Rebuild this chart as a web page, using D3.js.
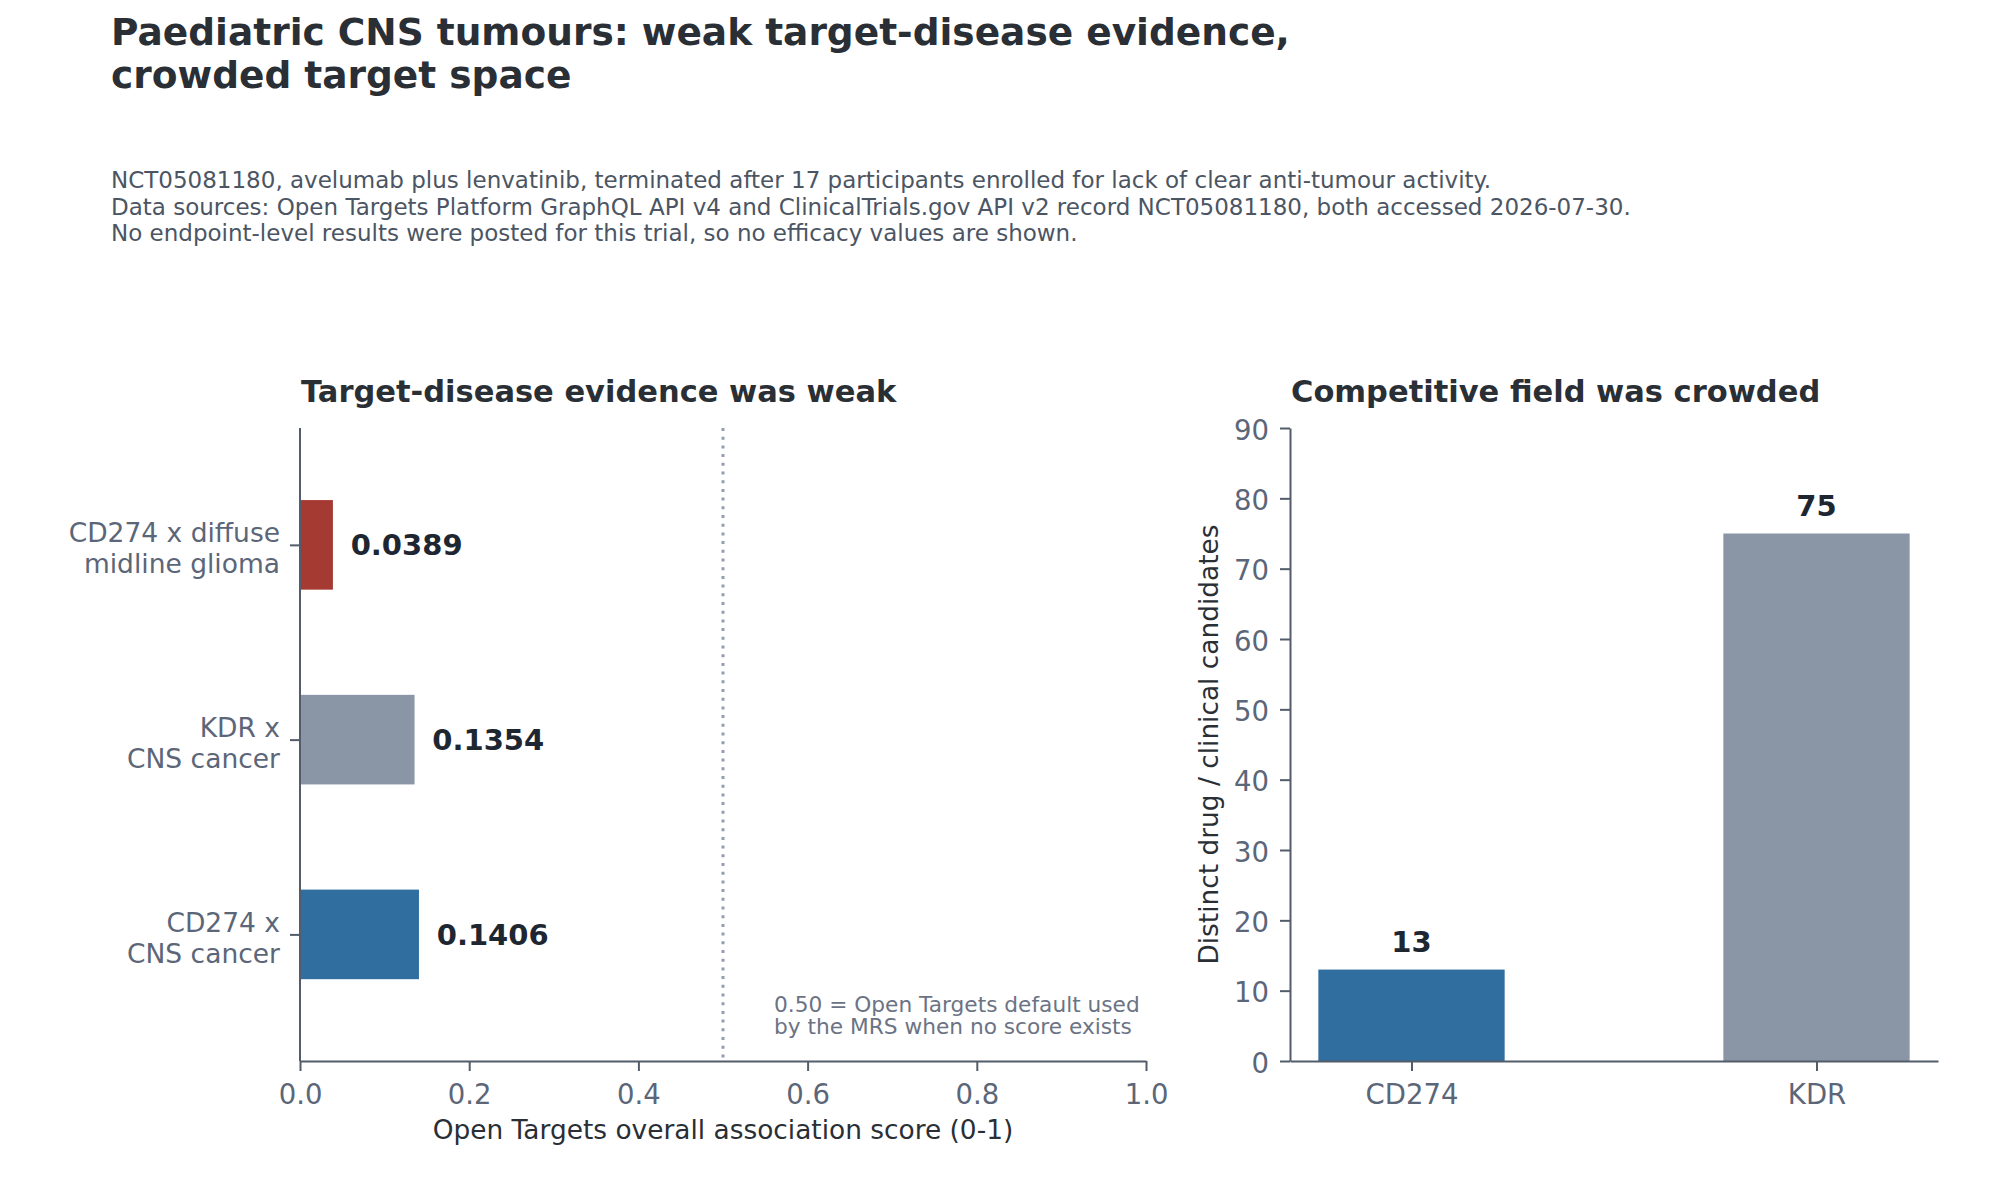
<!DOCTYPE html>
<html>
<head>
<meta charset="utf-8">
<script src="https://cdn.jsdelivr.net/npm/d3@7"></script>
<style>
  html, body { margin: 0; padding: 0; background: #fff; }
  svg text { font-family: "DejaVu Sans", sans-serif; }
</style>
</head>
<body>
<svg width="2000" height="1200"></svg>
<script>
// association scores, bottom row first
var pairLabels = [["CD274 x", "CNS cancer"], ["KDR x", "CNS cancer"], ["CD274 x diffuse", "midline glioma"]];
var pairScores = [0.1406, 0.1354, 0.0389];
var scoreTicks = [0, 0.2, 0.4, 0.6, 0.8, 1.0];
var defaultScore = 0.5;

// competitor counts
var targets = ["CD274", "KDR"];
var candidateCounts = [13, 75];
var countTicks = [0, 10, 20, 30, 40, 50, 60, 70, 80, 90];

var titleLines = ["Paediatric CNS tumours: weak target-disease evidence,", "crowded target space"];
var subtitleLines = [
  "NCT05081180, avelumab plus lenvatinib, terminated after 17 participants enrolled for lack of clear anti-tumour activity.",
  "Data sources: Open Targets Platform GraphQL API v4 and ClinicalTrials.gov API v2 record NCT05081180, both accessed 2026-07-30.",
  "No endpoint-level results were posted for this trial, so no efficacy values are shown."
];
var noteLines = ["0.50 = Open Targets default used", "by the MRS when no score exists"];

var blue = "#2f6e9e", grey = "#8a96a6", red = "#a53a33";
var pairColours = [blue, grey, red];
var targetColours = [blue, grey];
var axisColour = "#525c6b", tickText = "#5b6678", dark = "#2a2f36", valueText = "#1e2731";

var svg = d3.select("svg");

// headline
svg.append("text")
   .attr("x", 111).attr("y", 45)
   .attr("font-size", "37.5px").attr("font-weight", "bold").attr("fill", dark)
   .selectAll("tspan").data(titleLines).enter().append("tspan")
   .attr("x", 111).attr("dy", function (d, i) { return i ? 43 : 0; })
   .text(function (d) { return d; });

svg.append("text")
   .attr("x", 111).attr("y", 188)
   .attr("font-size", "23px").attr("fill", "#4b5563")
   .selectAll("tspan").data(subtitleLines).enter().append("tspan")
   .attr("x", 111).attr("dy", function (d, i) { return i ? 26.7 : 0; })
   .text(function (d) { return d; });

function styleAxis(g) {
  g.select(".domain").attr("stroke", axisColour).attr("stroke-width", 2);
  g.selectAll(".tick line").attr("stroke", axisColour).attr("stroke-width", 2);
  g.selectAll(".tick text").attr("fill", tickText).attr("font-size", "27.5px")
   .attr("font-family", '"DejaVu Sans", sans-serif');
}

// ---- left panel: association scores
var plotTop = 428, plotBottom = 1061;
var x = d3.scaleLinear().domain([0, 1]).range([300, 1146]);
var y = d3.scaleLinear().domain([-0.65, 2.6]).range([plotBottom, plotTop]);
var barH = y(0) - y(0.46);

var left = svg.append("g");

left.append("line")
    .attr("x1", x(defaultScore)).attr("x2", x(defaultScore))
    .attr("y1", plotTop).attr("y2", plotBottom)
    .attr("stroke", "#939db0").attr("stroke-width", 3)
    .attr("stroke-dasharray", "3,5.7");

left.selectAll("rect").data(pairScores).enter().append("rect")
    .attr("x", x(0))
    .attr("y", function (d, i) { return y(i) - barH / 2; })
    .attr("width", function (d) { return x(d) - x(0); })
    .attr("height", barH)
    .attr("fill", function (d, i) { return pairColours[i]; });

left.selectAll("text.val").data(pairScores).enter().append("text")
    .attr("class", "val")
    .attr("x", function (d) { return x(d + 0.021); })
    .attr("y", function (d, i) { return y(i) + 10.5; })
    .attr("font-size", "29px").attr("font-weight", "bold").attr("fill", valueText)
    .text(function (d) { return d.toFixed(4); });

left.append("g")
    .attr("transform", "translate(0," + plotBottom + ")")
    .call(d3.axisBottom(x).tickValues(scoreTicks).tickFormat(d3.format(".1f"))
      .tickSize(10).tickPadding(13).tickSizeOuter(0))
    .call(styleAxis);

var yAxis = left.append("g")
    .attr("transform", "translate(" + x(0) + ",0)")
    .call(d3.axisLeft(y).tickValues(d3.range(pairLabels.length)).tickFormat("")
      .tickSize(10).tickSizeOuter(0))
    .call(styleAxis);
yAxis.select(".domain").attr("d", "M0," + plotTop + "V" + plotBottom);
yAxis.selectAll(".tick text")
    .attr("x", -20).attr("dy", null).attr("text-anchor", "end")
    .attr("font-size", "26.5px")
    .each(function (d) {
      d3.select(this).selectAll("tspan").data(pairLabels[d]).enter().append("tspan")
        .attr("x", -20).attr("dy", function (t, j) { return j ? 31 : -3; })
        .text(function (t) { return t; });
    });

left.append("text")
    .attr("x", (x(0) + x(1)) / 2).attr("y", 1139)
    .attr("text-anchor", "middle").attr("font-size", "26.4px").attr("fill", dark)
    .text("Open Targets overall association score (0-1)");

left.append("text")
    .attr("x", 774).attr("y", 1012)
    .attr("font-size", "21.7px").attr("fill", "#6b7384")
    .selectAll("tspan").data(noteLines).enter().append("tspan")
    .attr("x", 774).attr("dy", function (d, i) { return i ? 22.3 : 0; })
    .text(function (d) { return d; });

left.append("text")
    .attr("x", 301).attr("y", 402)
    .attr("font-size", "30.5px").attr("font-weight", "bold").attr("fill", dark)
    .text("Target-disease evidence was weak");

// ---- right panel: crowded field
var cx = d3.scaleLinear().domain([-0.3, 1.3]).range([1290, 1938]);
var cy = d3.scaleLinear().domain([0, 90]).range([plotBottom, plotTop]);
var barW = cx(0.46) - cx(0);

var right = svg.append("g");

right.selectAll("rect").data(candidateCounts).enter().append("rect")
    .attr("x", function (d, i) { return cx(i) - barW / 2; })
    .attr("y", function (d) { return cy(d); })
    .attr("width", barW)
    .attr("height", function (d) { return cy(0) - cy(d); })
    .attr("fill", function (d, i) { return targetColours[i]; });

right.selectAll("text.val").data(candidateCounts).enter().append("text")
    .attr("class", "val")
    .attr("x", function (d, i) { return cx(i); })
    .attr("y", function (d) { return cy(d + 2.55); })
    .attr("text-anchor", "middle")
    .attr("font-size", "29px").attr("font-weight", "bold").attr("fill", valueText)
    .text(function (d) { return d; });

right.append("g")
    .attr("transform", "translate(0," + plotBottom + ")")
    .call(d3.axisBottom(cx).tickValues(d3.range(targets.length))
      .tickFormat(function (i) { return targets[i]; })
      .tickSize(10).tickPadding(13).tickSizeOuter(0))
    .call(styleAxis);

var cyAxis = right.append("g")
    .attr("transform", "translate(" + cx.range()[0] + ",0)")
    .call(d3.axisLeft(cy).tickValues(countTicks).tickSize(10).tickPadding(11).tickSizeOuter(0))
    .call(styleAxis);
cyAxis.selectAll(".tick text").attr("dy", "0.4em");

right.append("text")
    .attr("transform", "translate(1218," + (plotTop + plotBottom) / 2 + ") rotate(-90)")
    .attr("text-anchor", "middle").attr("font-size", "26.4px").attr("fill", dark)
    .text("Distinct drug / clinical candidates");

right.append("text")
    .attr("x", 1291).attr("y", 402)
    .attr("font-size", "30.5px").attr("font-weight", "bold").attr("fill", dark)
    .text("Competitive field was crowded");
</script>
</body>
</html>
